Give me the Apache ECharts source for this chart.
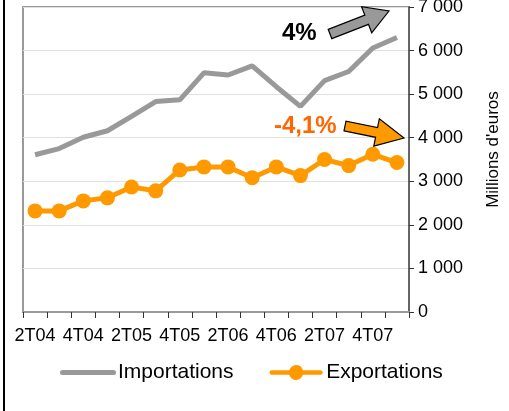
<!DOCTYPE html>
<html><head><meta charset="utf-8">
<script src="https://cdn.jsdelivr.net/npm/echarts@6/dist/echarts.min.js"></script>
<style>html,body{margin:0;padding:0;background:#fff}#c{width:509px;height:411px}</style>
</head><body><div id="c"></div>
<script>
var categories = ['2T04','3T04','4T04','1T05','2T05','3T05','4T05','1T06','2T06','3T06','4T06','1T07','2T07','3T07','4T07','1T08'];
var importations = [3610, 3750, 4010, 4160, 4490, 4830, 4870, 5490, 5440, 5650, 5170, 4720, 5310, 5520, 6060, 6300];
var exportations = [2320, 2320, 2550, 2620, 2870, 2780, 3260, 3330, 3330, 3080, 3330, 3130, 3500, 3360, 3620, 3430];
var seriesNames = ['Importations', 'Exportations'];
var yTicks = [0, 1000, 2000, 3000, 4000, 5000, 6000, 7000];
var yTitle = "Millions d'euros";
var noteImp = '4%';
var noteExp = '-4,1%';

function blockArrow(tail, tip, shaftW, headW, headL) {
  var dx = tip[0]-tail[0], dy = tip[1]-tail[1];
  var L = Math.sqrt(dx*dx+dy*dy);
  var ux = dx/L, uy = dy/L, nx = -uy, ny = ux;
  var bx = tip[0]-ux*headL, by = tip[1]-uy*headL;
  return [
    [tail[0]+nx*shaftW, tail[1]+ny*shaftW],
    [bx+nx*shaftW, by+ny*shaftW],
    [bx+nx*headW, by+ny*headW],
    [tip[0], tip[1]],
    [bx-nx*headW, by-ny*headW],
    [bx-nx*shaftW, by-ny*shaftW],
    [tail[0]-nx*shaftW, tail[1]-ny*shaftW]
  ];
}

var FONT = 'Liberation Sans, Arial, sans-serif';
var iconLine = 'path://M2.5,5 H53.5 A2.5,2.5 0 0,1 53.5,10 H2.5 A2.5,2.5 0 0,1 2.5,5 Z';
var iconLineDot = 'path://M2.5,5 H20.8 A7.5,7.5 0 0,1 35.2,5 H53.5 A2.5,2.5 0 0,1 53.5,10 H35.2 A7.5,7.5 0 0,1 20.8,10 H2.5 A2.5,2.5 0 0,1 2.5,5 Z';

var chart = echarts.init(document.getElementById('c'));
chart.setOption({
  animation: false,
  grid: { left: 23, right: 100, top: 7, bottom: 99, outerBoundsMode: 'none', containLabel: false,
          show: true, borderColor: '#999999', borderWidth: 2, backgroundColor: 'transparent' },
  xAxis: {
    type: 'category', data: categories, boundaryGap: true,
    axisLine: { lineStyle: { color: '#999999', width: 2 } },
    axisTick: { show: true, interval: 0, length: 6, lineStyle: { color: '#333333', width: 1 } },
    axisLabel: { interval: 1, margin: 15, fontSize: 18, color: '#000', fontFamily: FONT },
    splitLine: { show: false }
  },
  yAxis: {
    type: 'value', position: 'right', min: yTicks[0], max: yTicks[yTicks.length-1], interval: 1000,
    axisLine: { show: true, lineStyle: { color: '#666666', width: 2 } },
    axisTick: { show: true, length: 5, inside: false, lineStyle: { color: '#333333', width: 1 } },
    axisLabel: { margin: 9, fontSize: 18, color: '#000', fontFamily: FONT,
      formatter: function (v) { return String(v).replace(/\B(?=(\d{3})+(?!\d))/g, ' '); } },
    splitLine: { show: true, lineStyle: { color: '#E0E0E0', width: 1 } },
    name: yTitle, nameLocation: 'middle', nameRotate: 90, nameGap: 76,
    nameTextStyle: { fontSize: 17, color: '#000', fontFamily: FONT, padding: [0, 0, 0, 20] }
  },
  legend: {
    left: 55, top: 357, itemWidth: 56, itemHeight: 15, itemGap: 36,
    textStyle: { fontSize: 21, color: '#000', fontFamily: FONT, padding: [0,0,0,-3] },
    data: [ { name: seriesNames[0], icon: iconLine, itemStyle: { color: '#999999' } },
            { name: seriesNames[1], icon: iconLineDot, itemStyle: { color: '#FF9900' } } ]
  },
  series: [
    { name: seriesNames[0], type: 'line', data: importations, symbol: 'none',
      lineStyle: { color: '#999999', width: 5 }, itemStyle: { color: '#999999' } },
    { name: seriesNames[1], type: 'line', data: exportations, symbol: 'circle', symbolSize: 15,
      lineStyle: { color: '#FF9900', width: 5 }, itemStyle: { color: '#FF9900' } }
  ],
  graphic: [
    { type: 'line', shape: { x1: 4, y1: 0, x2: 4, y2: 411 }, style: { stroke: '#000', lineWidth: 2 }, z: 100 },
    { type: 'polygon', shape: { points: blockArrow([330, 34], [389, 11], 5, 14, 24) }, style: { fill: '#999999', stroke: '#000', lineWidth: 1.2 }, z: 100 },
    { type: 'polygon', shape: { points: blockArrow([345, 126], [404, 138], 5, 14, 28) }, style: { fill: '#FF9900', stroke: '#000', lineWidth: 1.2 }, z: 100 },
    { type: 'text', left: 282, top: 21, style: { text: noteImp, fill: '#000', font: 'bold 24px ' + FONT }, z: 100 },
    { type: 'text', left: 274, top: 114, style: { text: noteExp, fill: '#FF6600', font: 'bold 24px ' + FONT }, z: 100 }
  ]
});
</script></body></html>
